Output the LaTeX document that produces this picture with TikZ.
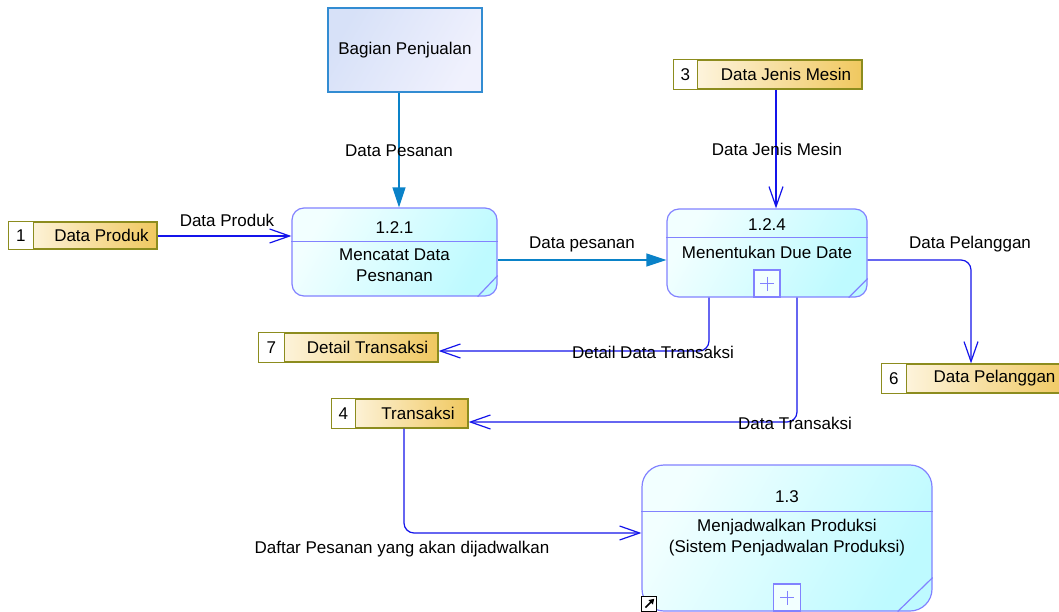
\documentclass[tikz,border=0pt]{standalone}
\usepackage{fontspec}
\setmainfont{Liberation Sans}
\usetikzlibrary{arrows.meta,calc}

\definecolor{flowblue}{RGB}{20,20,235}
\definecolor{flowteal}{RGB}{10,130,200}
\definecolor{procedge}{RGB}{130,130,255}
\definecolor{proctop}{RGB}{242,255,255}
\definecolor{procbot}{RGB}{190,250,255}
\definecolor{storeedge}{RGB}{140,140,30}
\definecolor{storegold}{RGB}{240,200,95}
\definecolor{storelight}{RGB}{255,250,238}
\definecolor{entedge}{RGB}{50,140,210}
\definecolor{entfilla}{RGB}{215,225,248}
\definecolor{entfillb}{RGB}{240,241,253}

\tikzset{
  proc/.style={draw=procedge, line width=1.2pt, left color=proctop, right color=procbot, shading angle=60, inner sep=0pt},
  procline/.style={draw=procedge, line width=1.2pt},
  plusbox/.style={draw=procedge, line width=1.2pt, fill=proctop, inner sep=0pt, minimum width=27pt, minimum height=27pt, anchor=south},
  entity/.style={draw=entedge, line width=1.2pt, left color=entfilla, right color=entfillb, shading angle=60, inner sep=0pt},
  store/.style={draw=storeedge, line width=1.2pt, left color=storelight, right color=storegold, inner sep=0pt},
  flow/.style={draw=flowblue, line width=1.2pt, rounded corners=10pt, -{Straight Barb[length=20pt,width=14pt,line width=1.2pt]}},
  mainflow/.style={draw=flowteal, line width=1.4pt, -{Triangle[length=20pt,width=13pt]}},
  lbl/.style={inner sep=0pt}
}

% data store: name, centre x, centre y, width, height, number cell width, number, label
\newcommand{\dstore}[8]{%
  \node[store, minimum width=#4pt, minimum height=#5pt] (#1) at (#2,#3) {};
  \filldraw[draw=storeedge, fill=white, line width=1.2pt] (#1.north west) rectangle ($(#1.south west)+(#6,0)$);
  \node[lbl] (#1-num) at ($(#1.west)+(#6/2,0)$) {#7};
  \node[lbl] (#1-txt) at ($(#1.center)+(#6/2+6,0)$) {#8};
}

\begin{document}
\begin{tikzpicture}[x=1pt, y=-1pt, font=\fontsize{17}{21}\selectfont]
\useasboundingbox (0,0) rectangle (1059,612);
\fill[white] (0,0) rectangle (1059,612);

% external entity
\node[entity, minimum width=154pt, minimum height=84pt] (ent) at (405,50) {};
\node[lbl] (ent-txt) at (ent.center) {Bagian Penjualan};

% process 1.2.1
\node[proc, rounded corners=12pt, minimum width=205pt, minimum height=88pt] (p121) at (394.5,252) {};
\draw[procline] ($(p121.north west)+(0,34)$) -- ($(p121.north east)+(0,34)$);
\node[lbl] (p121-id) at ($(p121.north)+(0,20)$) {1.2.1};
\node[lbl, align=center] (p121-txt) at ($(p121.north)+(0,58)$) {Mencatat Data\\Pesnanan};
\draw[procline] ($(p121.south east)+(0,-21)$) -- ($(p121.south east)+(-20,0)$);

% process 1.2.4
\node[proc, rounded corners=12pt, minimum width=200pt, minimum height=88pt] (p124) at (767,253) {};
\draw[procline] ($(p124.north west)+(0,29)$) -- ($(p124.north east)+(0,29)$);
\node[lbl] (p124-id) at ($(p124.north)+(0,16)$) {1.2.4};
\node[lbl] (p124-txt) at ($(p124.north)+(0,44)$) {Menentukan Due Date};
\draw[procline] ($(p124.south east)+(0,-19)$) -- ($(p124.south east)+(-19,0)$);
\node[plusbox, minimum width=26pt] (p124-plus) at (p124.south) {};
\draw[procedge, line width=1pt] ($(p124-plus.center)+(-7,0)$) -- ($(p124-plus.center)+(7,0)$)
  ($(p124-plus.center)+(0,-7)$) -- ($(p124-plus.center)+(0,7)$);

% process 1.3
\node[proc, rounded corners=22pt, minimum width=290pt, minimum height=146pt] (p13) at (787,538) {};
\draw[procline] ($(p13.north west)+(0,47)$) -- ($(p13.north east)+(0,47)$);
\node[lbl] (p13-id) at ($(p13.north)+(0,32)$) {1.3};
\node[lbl, align=center] (p13-txt) at ($(p13.north)+(0,73)$) {Menjadwalkan Produksi\\(Sistem Penjadwalan Produksi)};
\draw[procline] ($(p13.south east)+(0,-34)$) -- ($(p13.south east)+(-35,0)$);
\node[plusbox] (p13-plus) at (p13.south) {};
\draw[procedge, line width=1pt] ($(p13-plus.center)+(-7,0)$) -- ($(p13-plus.center)+(7,0)$)
  ($(p13-plus.center)+(0,-7)$) -- ($(p13-plus.center)+(0,7)$);
\node[draw=black, fill=white, line width=0.8pt, minimum size=15pt, inner sep=0pt, anchor=south west] (p13-icon) at (p13.south west) {};
\draw[black, line width=1.6pt, -{Triangle[length=5pt,width=6pt]}] ($(p13-icon.south west)+(4,-4)$) -- ($(p13-icon.north east)+(-3,3)$);

% data stores
\dstore{s1}{83}{235.5}{148}{27}{25}{1}{Data Produk}
\dstore{s3}{768}{74.5}{188}{29}{24}{3}{Data Jenis Mesin}
\dstore{s7}{348.5}{347.5}{179}{29}{26}{7}{Detail Transaksi}
\dstore{s4}{400}{413.5}{136}{29}{24}{4}{Transaksi}
\dstore{s6}{976}{378.5}{188}{29}{25}{6}{Data Pelanggan}

% data flows
\draw[mainflow] ([xshift=4.5pt]p121.north |- ent.south) -- ([xshift=4.5pt]p121.north);
\draw[mainflow] ([yshift=-8pt]p121.east) -- ([yshift=-7pt]p124.west);
\draw[flow] ([yshift=-0.5pt]s1.east) -- ([yshift=-0.5pt]s1.east -| p121.west);
\draw[flow] ([xshift=8pt]s3.south) -- ([xshift=8pt]s3.south |- p124.north);
\draw[flow] ([yshift=-7pt]p124.east) -| ([xshift=-5pt]s6.north);
\draw[flow] ([xshift=-58pt]p124.south) |- ([yshift=-3.5pt]s7.east);
\draw[flow] ([xshift=30pt]p124.south) |- ([yshift=-8.5pt]s4.east);
\draw[flow] ([xshift=4pt]s4.south) |- ([yshift=5pt]p13.west);

% flow labels
\node[lbl] (l-pesanan) at (399,151) {Data Pesanan};
\node[lbl] (l-produk) at (227,220) {Data Produk};
\node[lbl] (l-pesanan2) at (582,244) {Data pesanan};
\node[lbl] (l-mesin) at (777,149) {Data Jenis Mesin};
\node[lbl] (l-pelanggan) at (970,244) {Data Pelanggan};
\node[lbl] (l-detail) at (653,352) {Detail Data Transaksi};
\node[lbl] (l-transaksi) at (795,423) {Data Transaksi};
\node[lbl] (l-daftar) at (402,549) {Daftar Pesanan yang akan dijadwalkan};
\end{tikzpicture}
\end{document}
